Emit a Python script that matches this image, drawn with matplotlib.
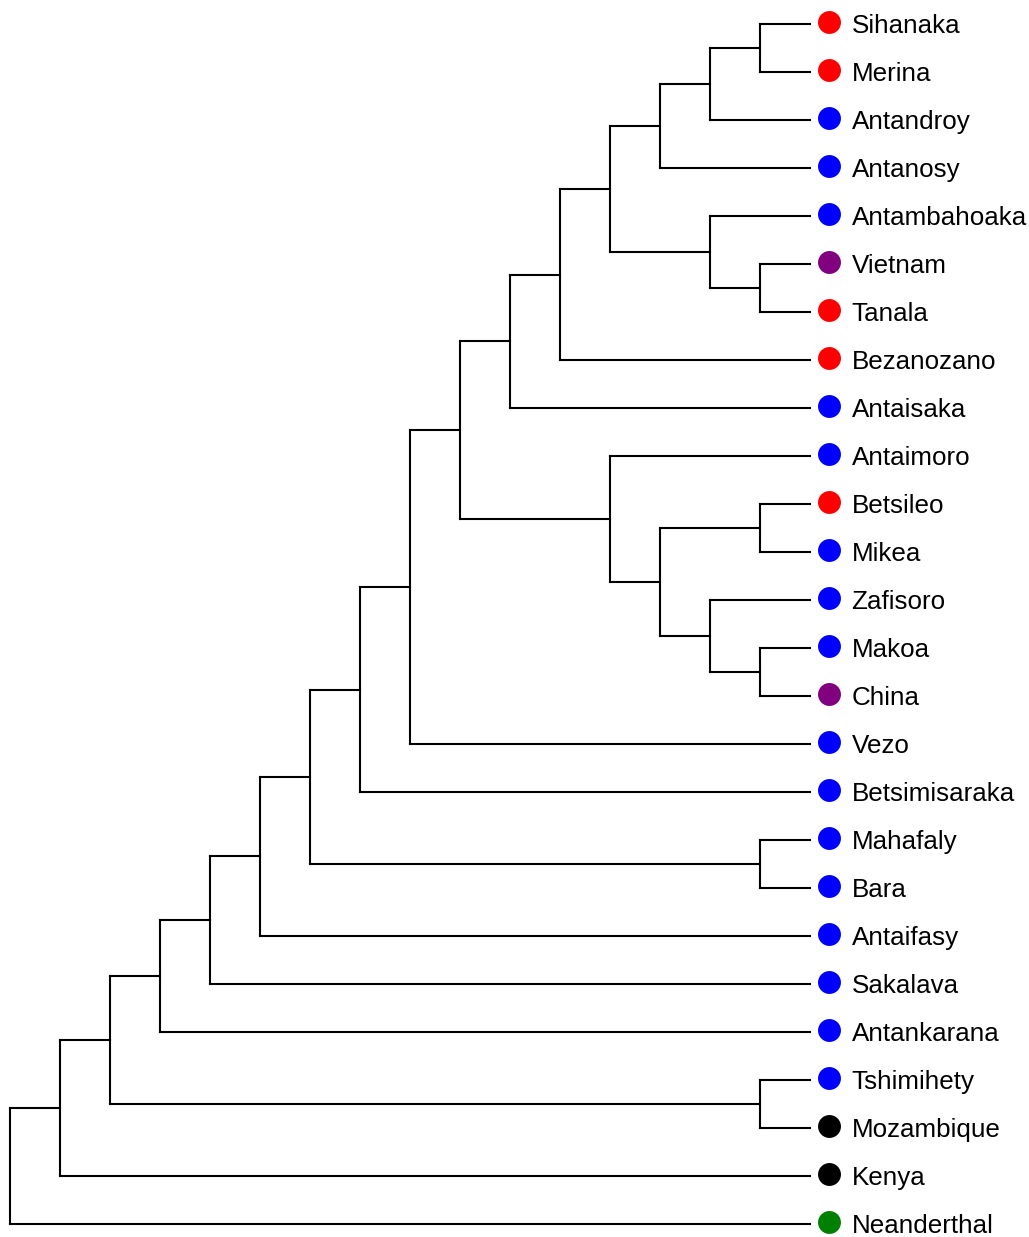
import matplotlib.pyplot as plt

plt.rcParams['font.family'] = ['Liberation Sans', 'DejaVu Sans']

# tree topology built from nested clades (leaves are strings)
merina_clade = ("Antanosy", ("Antandroy", ("Sihanaka", "Merina")))
tanala_clade = ("Antambahoaka", ("Vietnam", "Tanala"))
upper = ("Antaisaka", ("Bezanozano", (merina_clade, tanala_clade)))
lower = ("Antaimoro", (("Betsileo", "Mikea"), ("Zafisoro", ("Makoa", "China"))))
core = ("Betsimisaraka", ("Vezo", (upper, lower)))
mada = ("Antankarana", ("Sakalava", ("Antaifasy", (("Mahafaly", "Bara"), core))))
tree = ("Neanderthal", ("Kenya", (("Tshimihety", "Mozambique"), mada)))

# leaf order top to bottom
leaves = ["Sihanaka", "Merina", "Antandroy", "Antanosy", "Antambahoaka",
          "Vietnam", "Tanala", "Bezanozano", "Antaisaka", "Antaimoro",
          "Betsileo", "Mikea", "Zafisoro", "Makoa", "China", "Vezo",
          "Betsimisaraka", "Mahafaly", "Bara", "Antaifasy", "Sakalava",
          "Antankarana", "Tshimihety", "Mozambique", "Kenya", "Neanderthal"]

groups = {"Sihanaka": "red", "Merina": "red", "Tanala": "red",
          "Bezanozano": "red", "Betsileo": "red",
          "Vietnam": "purple", "China": "purple",
          "Mozambique": "black", "Kenya": "black",
          "Neanderthal": "green"}
colors = {"red": "#ff0000", "blue": "#0000ff", "purple": "#800080",
          "black": "#000000", "green": "#008000"}

fig = plt.figure(figsize=(10.29, 12.37), dpi=100)
ax = fig.add_axes([0, 0, 1, 1])


def draw(node):
    """return (height, y) of node and draw its branches"""
    if isinstance(node, str):
        return 0, leaves.index(node)
    kids = [draw(c) for c in node]
    h = max(k[0] for k in kids) + 1
    ys = [k[1] for k in kids]
    y = (min(ys) + max(ys)) / 2
    ax.plot([h, h], [min(ys), max(ys)], color='black', lw=1.5,
            solid_capstyle='projecting')
    for kh, ky in kids:
        ax.plot([h, kh], [ky, ky], color='black', lw=1.5,
                solid_capstyle='projecting')
    return h, y


draw(tree)

for i, name in enumerate(leaves):
    c = colors[groups.get(name, "blue")]
    ax.plot(-0.38, i - 0.045, 'o', color=c, markersize=16.5, mec='none')
    ax.text(-0.83, i + 0.195, name, fontsize=18.7, va='baseline', ha='left')

ax.set_xlim(16.2, -4.38)
ax.set_ylim(25.27, -0.5)
ax.axis('off')
fig.savefig('out.png', dpi=100)
